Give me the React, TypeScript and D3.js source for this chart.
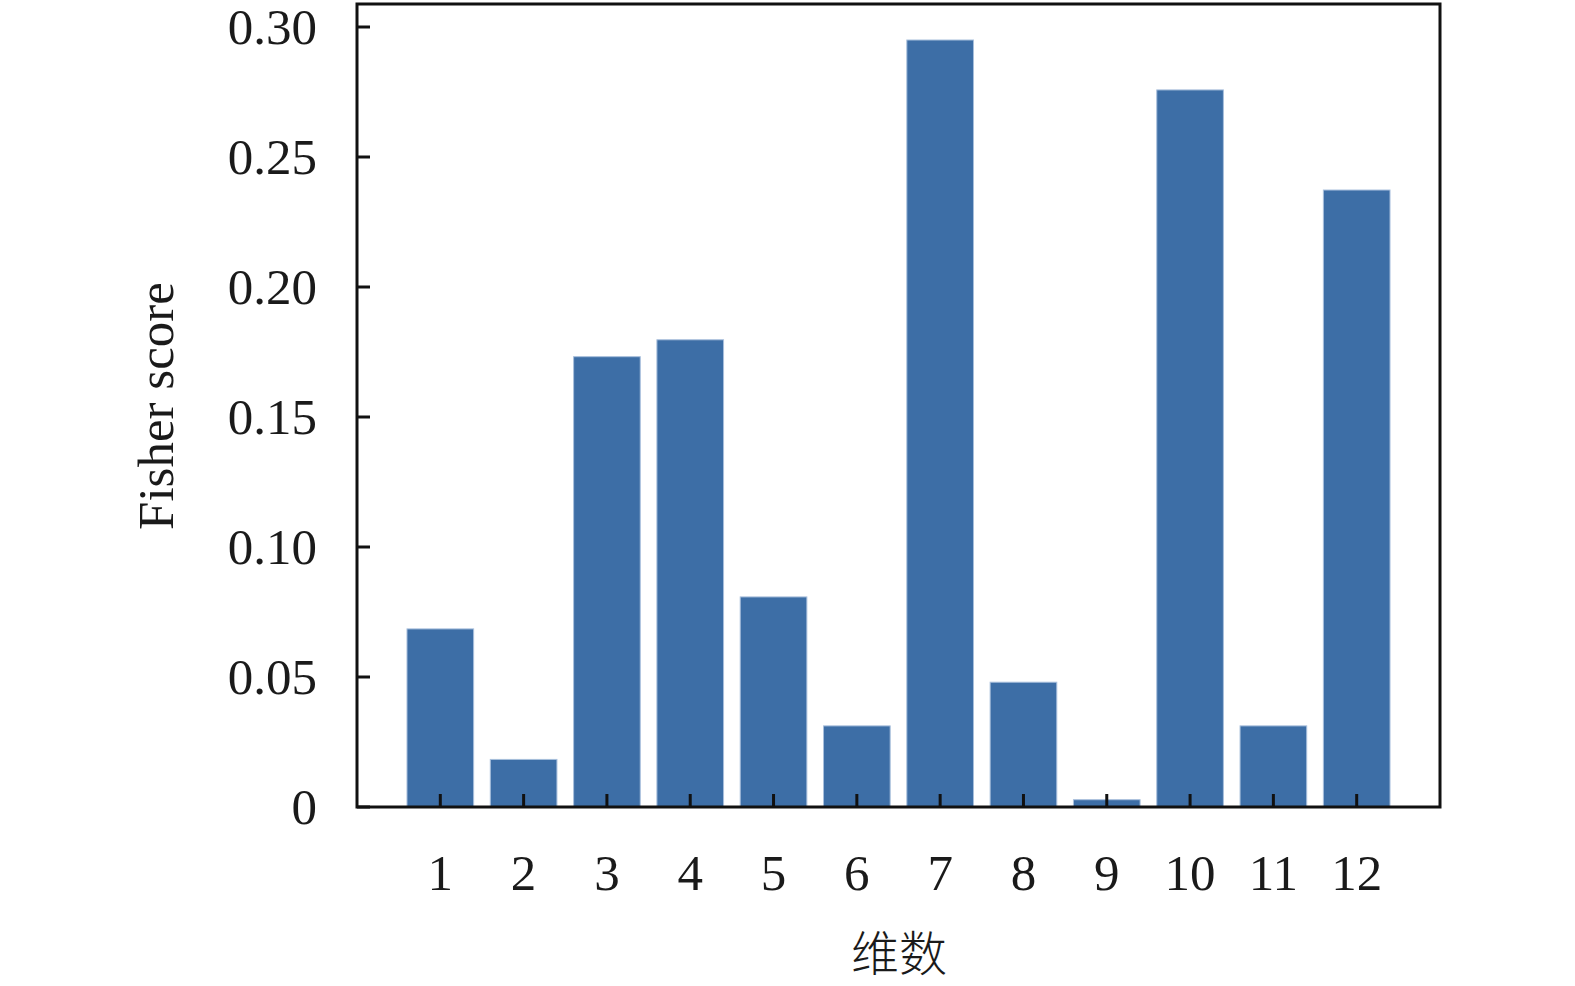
import React, { useEffect, useRef } from "react";
import * as d3 from "d3";

const categories: number[] = [1, 2, 3, 4, 5, 6, 7, 8, 9, 10, 11, 12];
const scores: number[] = [0.0685, 0.0183, 0.1732, 0.1797, 0.0808, 0.0312, 0.295, 0.048, 0.0028, 0.2758, 0.0312, 0.2373];
const yTicks: number[] = [0, 0.05, 0.1, 0.15, 0.2, 0.25, 0.3];
const yTickLabels: string[] = ["0", "0.05", "0.10", "0.15", "0.20", "0.25", "0.30"];
const xTitle = "维数";
const yTitle = "Fisher score";

const W = 1575;
const H = 986;

export default function App() {
  const ref = useRef<SVGSVGElement | null>(null);

  useEffect(() => {
    const svg = d3.select(ref.current);
    svg.selectAll("*").remove();

    const left = 357, right = 1440, top = 4, bottom = 807;
    const x = d3.scaleLinear().domain([0, 13]).range([left, right]);
    const y = d3.scaleLinear().domain([0, 0.3]).range([bottom, 27]);
    const bw = (x(1) - x(0)) * 0.8;
    const serif = "'Times New Roman', 'Liberation Serif', Times, serif";

    svg
      .append("g")
      .selectAll("rect")
      .data(categories)
      .join("rect")
      .attr("x", (d) => x(d) - bw / 2)
      .attr("width", bw)
      .attr("y", (_d, i) => y(scores[i]))
      .attr("height", (_d, i) => y(0) - y(scores[i]))
      .attr("fill", "#3d6ea6")
      .attr("stroke", "#a8bfdc")
      .attr("stroke-width", 1);

    // frame
    svg
      .append("rect")
      .attr("x", left)
      .attr("y", top)
      .attr("width", right - left)
      .attr("height", bottom - top)
      .attr("fill", "none")
      .attr("stroke", "#111")
      .attr("stroke-width", 3);

    // y ticks (inward)
    const yg = svg.append("g");
    yg.selectAll("line")
      .data(yTicks)
      .join("line")
      .attr("x1", left)
      .attr("x2", left + 13)
      .attr("y1", (d) => y(d))
      .attr("y2", (d) => y(d))
      .attr("stroke", "#111")
      .attr("stroke-width", 3);
    yg.selectAll("text")
      .data(yTicks)
      .join("text")
      .attr("x", 317)
      .attr("y", (d) => y(d))
      .attr("dy", "0.34em")
      .attr("text-anchor", "end")
      .attr("font-family", serif)
      .attr("font-size", 51)
      .attr("fill", "#1a1a1a")
      .text((_d, i) => yTickLabels[i]);

    // x ticks (inward)
    const xg = svg.append("g");
    xg.selectAll("line")
      .data(categories)
      .join("line")
      .attr("x1", (d) => x(d))
      .attr("x2", (d) => x(d))
      .attr("y1", bottom)
      .attr("y2", bottom - 13)
      .attr("stroke", "#111")
      .attr("stroke-width", 3);
    xg.selectAll("text")
      .data(categories)
      .join("text")
      .attr("x", (d) => x(d))
      .attr("y", 890)
      .attr("text-anchor", "middle")
      .attr("font-family", serif)
      .attr("font-size", 51)
      .attr("fill", "#1a1a1a")
      .text((d) => String(d));

    svg
      .append("text")
      .attr("transform", `translate(173,406) rotate(-90)`)
      .attr("text-anchor", "middle")
      .attr("font-family", serif)
      .attr("font-size", 51)
      .attr("fill", "#1a1a1a")
      .text(yTitle);

    svg
      .append("text")
      .attr("x", 899)
      .attr("y", 971)
      .attr("text-anchor", "middle")
      .attr("font-family", "'Noto Sans CJK SC', sans-serif")
      .attr("font-size", 48)
      .attr("font-weight", 300)
      .attr("fill", "#1a1a1a")
      .text(xTitle);
  }, []);

  return (
    <svg
      ref={ref}
      width={W}
      height={H}
      style={{ position: "absolute", left: 0, top: 0, background: "#fff" }}
    />
  );
}
